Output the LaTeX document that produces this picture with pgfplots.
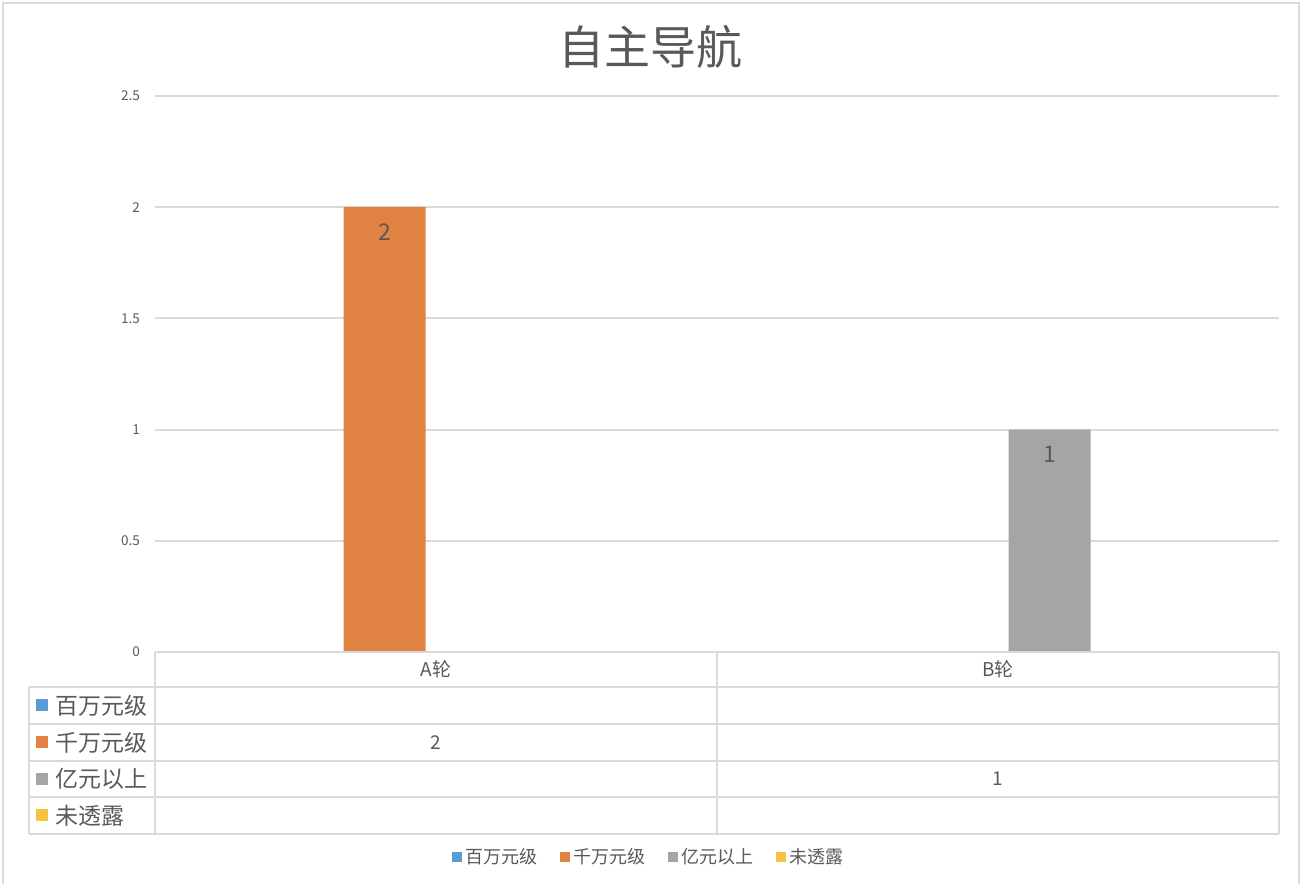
\documentclass[border=0pt]{standalone}
\usepackage{fontspec}
\setmainfont{Noto Sans CJK SC}
\usepackage{pgfplots}
\pgfplotsset{compat=1.18}

\definecolor{cblue}{HTML}{5B9BD5}
\definecolor{corange}{HTML}{E08241}
\definecolor{cgray}{HTML}{A5A5A5}
\definecolor{cyellow}{HTML}{F5C242}
\definecolor{cgrid}{HTML}{D9D9D9}
\definecolor{ctext}{HTML}{595959}

\begin{document}
\begin{tikzpicture}
\useasboundingbox (0,0) rectangle (651pt,442pt);

\begin{axis}[
    at={(77.5pt,116pt)}, anchor=south west,
    scale only axis,
    width=562pt, height=278pt,
    xmin=-0.5, xmax=1.5,
    ymin=0, ymax=2.5,
    ybar=10.5pt, bar width=41pt,
    xtick={0,1}, xticklabels={A轮,B轮},
    ytick={0,0.5,1,1.5,2,2.5},
    ymajorgrids,
    grid style={draw=cgrid, line width=1pt},
    axis line style={draw=none},
    major tick length=0pt,
    tick style={draw=none},
    xticklabel style={font=\fontsize{9.5}{11}\selectfont, text=ctext, anchor=center, yshift=-8.5pt},
    yticklabel style={font=\fontsize{6.8}{8}\selectfont, text=ctext, xshift=-4pt},
    /pgf/number format/assume math mode=true,
    point meta=explicit symbolic,
    every node near coord/.append style={anchor=center, yshift=-12.5pt,
        font=\fontsize{11.5}{13}\selectfont, text=ctext},
    legend style={at={(axis description cs:0.44,-0.369)}, anchor=center,
        draw=none, legend columns=4, font=\fontsize{9}{11}\selectfont,
        text=ctext,
        /tikz/every even column/.append style={column sep=9pt}},
    legend image code/.code={\fill[#1] (0pt,-2.5pt) rectangle (5pt,2.5pt);},
]
\addplot[fill=cblue, draw=none] coordinates {(0,0) [] (1,0) []};
\addplot[fill=corange, draw=none, nodes near coords] coordinates {(0,2) [2] (1,0) []};
\addplot[fill=cgray, draw=none, nodes near coords] coordinates {(0,0) [] (1,1) [1]};
\addplot[fill=cyellow, draw=none] coordinates {(0,0) [] (1,0) []};
\legend{百万元级,千万元级,亿元以上,未透露}
\end{axis}

% pixel grid of the reference: (X,Y) from the top left corner
\begin{scope}[x=0.5pt, y=-0.5pt, yshift=442pt]
  % chart frame
  \draw[cgrid, line width=1pt] (3,890) -- (3,3) -- (1299,3) -- (1299,890);
  % title
  \node[text=ctext, font=\fontsize{23}{27}\selectfont] at (650,47) {自主导航};
  % data table
  \begin{scope}[cgrid, line width=1pt]
    \draw (155,652) -- (1279,652);
    \foreach \y in {687,724,761,797,834} \draw (29,\y) -- (1279,\y);
    \draw (29,687) -- (29,834);
    \foreach \x in {155,717,1279} \draw (\x,652) -- (\x,834);
  \end{scope}
  \foreach \y/\c/\t in {705.5/cblue/百万元级, 742.5/corange/千万元级, 779/cgray/亿元以上, 815.5/cyellow/未透露}{
    \fill[\c] (36,\y-6) rectangle (48,\y+6);
    \node[anchor=west, inner sep=0pt, text=ctext, font=\fontsize{11.5}{13}\selectfont] at (55,\y) {\t};
  }
  \node[text=ctext, font=\fontsize{9.5}{11}\selectfont] at (436,742.5) {2};
  \node[text=ctext, font=\fontsize{9.5}{11}\selectfont] at (998,779) {1};
\end{scope}
\end{tikzpicture}
\end{document}
